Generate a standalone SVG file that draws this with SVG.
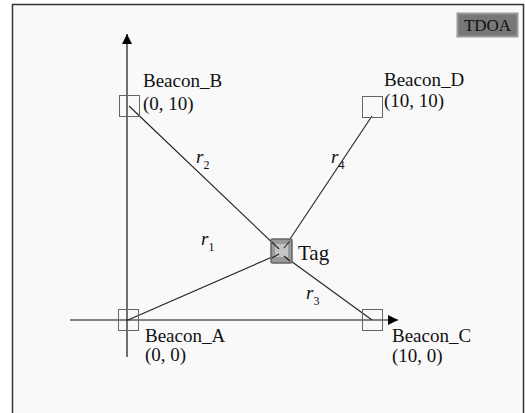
<svg xmlns="http://www.w3.org/2000/svg" width="525" height="413" viewBox="0 0 525 413">
<style>
text{font-family:'Liberation Serif','DejaVu Serif',serif;fill:#111}
.beacon{fill:none;stroke:#666;stroke-width:1}
.axis{stroke:#111;stroke-width:1.2;fill:none}
.link{stroke:#222;stroke-width:1.1;fill:none}
</style>
<defs>
<marker id="ah" viewBox="0 0 10 10" refX="10" refY="5" markerWidth="10" markerHeight="10" markerUnits="userSpaceOnUse" orient="auto">
<path d="M0,0 L10,5 L0,10 z" fill="#000"/>
</marker>
<marker id="sm" viewBox="0 0 10 10" refX="10" refY="5" markerWidth="8" markerHeight="8" markerUnits="userSpaceOnUse" orient="auto">
<path d="M0,1 L10,5 L0,9" fill="none" stroke="#222" stroke-width="1.2"/>
</marker>
</defs>
<rect x="0" y="0" width="525" height="413" fill="#ffffff"/>
<rect x="12.5" y="4.5" width="511" height="420" fill="#f9f9f9" stroke="#333" stroke-width="1.5"/>
<g id="title">
<rect x="457.5" y="13.5" width="60" height="23" fill="#777" stroke="#999" stroke-width="2"/>
<text x="487.5" y="31" font-family="Liberation Serif, serif" font-size="17" text-anchor="middle">TDOA</text>
</g>
<g id="axes">
<line class="axis" x1="127" y1="357" x2="127" y2="34" marker-end="url(#ah)"/>
<line class="axis" x1="70" y1="320" x2="398" y2="320" marker-end="url(#ah)"/>
</g>
<g id="connectors">
<line class="link" x1="128" y1="320" x2="279" y2="254" marker-end="url(#sm)"/>
<line class="link" x1="129" y1="106" x2="279" y2="249" marker-end="url(#sm)"/>
<line class="link" x1="372" y1="116" x2="284" y2="248" marker-end="url(#sm)"/>
<line class="link" x1="372" y1="320" x2="284" y2="256" marker-end="url(#sm)"/>
</g>
<g id="beacon_a">
<rect class="beacon" x="118.5" y="309.5" width="20" height="21"/>
<text x="145" y="342" font-family="Liberation Serif, serif" font-size="19">Beacon_A</text>
<text x="145" y="361" font-family="Liberation Serif, serif" font-size="19">(0, 0)</text>
</g>
<g id="beacon_b">
<rect class="beacon" x="119.5" y="95.5" width="20" height="21"/>
<text x="143" y="87" font-family="Liberation Serif, serif" font-size="19">Beacon_B</text>
<text x="143" y="110" font-family="Liberation Serif, serif" font-size="19">(0, 10)</text>
</g>
<g id="beacon_c">
<rect class="beacon" x="362.5" y="309.5" width="20" height="21"/>
<text x="392" y="342" font-family="Liberation Serif, serif" font-size="19">Beacon_C</text>
<text x="392" y="362" font-family="Liberation Serif, serif" font-size="19">(10, 0)</text>
</g>
<g id="beacon_d">
<rect class="beacon" x="362.5" y="96.5" width="20" height="21"/>
<text x="384" y="86" font-family="Liberation Serif, serif" font-size="19">Beacon_D</text>
<text x="384" y="107" font-family="Liberation Serif, serif" font-size="19">(10, 10)</text>
</g>
<g id="tag">
<rect x="271" y="239" width="21" height="24" rx="1.5" fill="#9a9a9a" stroke="#666" stroke-width="1.5"/>
<rect x="275" y="244" width="13" height="13" fill="#c4c4c4"/>
<line class="link" x1="279" y1="249" x2="272" y2="242"/>
<line class="link" x1="284" y1="248" x2="290" y2="241"/>
<line class="link" x1="279" y1="254" x2="272" y2="258"/>
<line class="link" x1="284" y1="256" x2="290" y2="261"/>
<text x="298" y="260" font-family="Liberation Serif, serif" font-size="21">Tag</text>
</g>
<g id="labels">
<text x="196" y="163" font-family="Liberation Serif, serif" font-size="19" font-style="italic">r<tspan font-size="12" font-style="normal" dy="6">2</tspan></text>
<text x="331" y="163" font-family="Liberation Serif, serif" font-size="19" font-style="italic">r<tspan font-size="12" font-style="normal" dy="6">4</tspan></text>
<text x="201" y="245" font-family="Liberation Serif, serif" font-size="19" font-style="italic">r<tspan font-size="12" font-style="normal" dy="6">1</tspan></text>
<text x="306" y="299" font-family="Liberation Serif, serif" font-size="19" font-style="italic">r<tspan font-size="12" font-style="normal" dy="6">3</tspan></text>
</g>
</svg>
